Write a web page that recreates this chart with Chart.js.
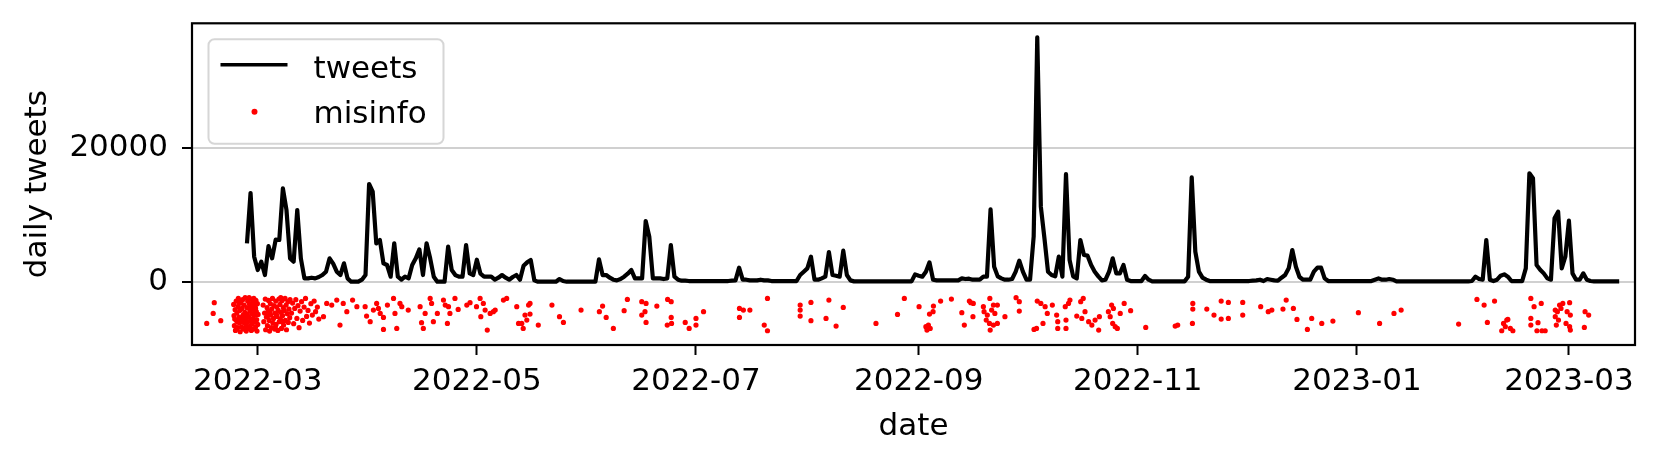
<!DOCTYPE html>
<html>
<head>
<meta charset="utf-8">
<script src="https://cdn.jsdelivr.net/npm/chart.js@4.4.1/dist/chart.umd.min.js"></script>
<style>
  html, body { margin: 0; padding: 0; background: #fff; }
  #wrap { width: 1661px; height: 467px; }
</style>
</head>
<body>
<div id="wrap"><canvas id="tweetChart"></canvas></div>
<script>
// x positions are counted in days from this date
const dayZero = '2022-03-01';
const tickLabels = ['2022-03', '2022-05', '2022-07', '2022-09', '2022-11', '2023-01', '2023-03'];
const yTicks = [0, 20000];

// daily tweet counts, one value per day from tweetsStart
const tweetsStart = '2022-02-26';
const tweets = [
  5750, 13300, 3750, 1750, 3000, 1000, 5350, 3500, 6300, 6250,
  14000, 10750, 3500, 3000, 10750, 3500, 500, 500, 600, 500,
  700, 1000, 1500, 3500, 2700, 1500, 1000, 2750, 500, 0,
  0, 0, 300, 1000, 14650, 13500, 5750, 6250, 2750, 2500,
  750, 5750, 750, 300, 750, 500, 2500, 3500, 4850, 1000,
  5750, 3500, 750, 0, 0, 0, 5250, 1750, 1000, 750,
  750, 5500, 1250, 1000, 3300, 1200, 750, 750, 750, 300,
  600, 1000, 600, 300, 700, 1000, 300, 2400, 2900, 3250,
  200, 0, 0, 0, 0, 0, 0, 400, 100, 0,
  0, 0, 0, 0, 0, 0, 0, 0, 3350, 1000,
  1000, 600, 300, 200, 400, 750, 1200, 1750, 500, 500,
  500, 9100, 6750, 500, 500, 500, 400, 500, 5500, 750,
  300, 150, 150, 100, 100, 100, 100, 100, 100, 100,
  100, 100, 100, 100, 100, 150, 200, 2100, 300, 300,
  200, 200, 200, 300, 200, 200, 100, 100, 100, 100,
  100, 100, 100, 100, 1000, 1500, 2000, 3750, 300, 300,
  500, 750, 4450, 1000, 900, 750, 4650, 1000, 200, 50,
  50, 50, 50, 50, 50, 50, 50, 50, 50, 50,
  50, 50, 50, 50, 50, 50, 1100, 900, 750, 1500,
  2900, 300, 200, 200, 200, 200, 200, 200, 200, 500,
  400, 450, 300, 300, 300, 750, 750, 10850, 2250, 800,
  500, 300, 300, 400, 1500, 3150, 1500, 300, 300, 6750,
  36650, 11250, 6500, 1500, 1000, 800, 3750, 750, 16150, 3250,
  800, 500, 6250, 4000, 3900, 2500, 1500, 800, 200, 300,
  1500, 3500, 1250, 1250, 2500, 300, 100, 100, 100, 100,
  850, 300, 50, 50, 50, 50, 50, 50, 50, 50,
  50, 50, 750, 15650, 4500, 1500, 600, 300, 100, 100,
  100, 100, 100, 100, 100, 100, 100, 100, 100, 100,
  150, 200, 300, 100, 400, 300, 200, 150, 600, 1000,
  2000, 4750, 2250, 700, 300, 300, 300, 1500, 2100, 2100,
  500, 100, 100, 100, 100, 100, 100, 100, 100, 100,
  100, 100, 100, 100, 300, 500, 300, 300, 400, 300,
  50, 50, 50, 50, 50, 50, 50, 50, 50, 50,
  50, 50, 50, 50, 50, 50, 50, 50, 50, 50,
  50, 100, 750, 400, 300, 6250, 300, 100, 300, 900,
  1100, 750, 100, 100, 100, 100, 2000, 16250, 15500, 2500,
  1800, 1250, 500, 300, 9500, 10500, 2000, 3750, 9150, 1250,
  300, 300, 1250, 300, 100, 50, 50, 50, 50, 50,
  50, 50, 50
];

// misinfo tweets: [day from dayZero, jittered y]
const misinfo = [
  [-14.2, -6250], [-12.4, -4750], [-12.1, -3150], [-10.3, -5850],
  [-6.7, -3400], [-6.6, -5100], [-6.5, -6600], [-6.3, -4200], [-6.2, -7300], [-6.0, -2900],
  [-5.9, -5800], [-5.8, -4700], [-5.6, -6900], [-5.5, -3700], [-5.4, -2500], [-5.2, -5300],
  [-5.1, -6200], [-5.0, -4300], [-4.9, -7500], [-4.7, -3200], [-4.6, -5700], [-4.5, -6800],
  [-4.4, -4000], [-4.2, -2700], [-4.1, -5000], [-4.0, -7100], [-3.9, -6100], [-3.8, -3500],
  [-3.6, -4600], [-3.5, -2400], [-3.4, -5500], [-3.3, -6500], [-3.2, -7400], [-3.0, -3900],
  [-2.9, -4900], [-2.8, -2900], [-2.7, -6000], [-2.6, -7000], [-2.5, -5300], [-2.3, -3300],
  [-2.2, -4400], [-2.1, -6700], [-2.0, -2600], [-1.9, -5800], [-1.8, -7300], [-1.7, -3800],
  [-1.6, -4800], [-1.5, -6300], [-1.4, -3100], [-1.3, -5500], [-1.2, -7100], [-1.1, -2500],
  [-1.0, -4200], [-0.9, -6000], [-0.8, -5000], [-0.7, -3600], [-0.6, -6800], [-0.5, -2800],
  [-0.4, -4500], [-0.3, -5700], [-0.2, -7400], [-0.1, -3300], [0.0, -6400], [0.1, -4900],
  [-5.3, -3000], [-4.8, -6000], [-3.7, -7000], [-2.4, -2400], [-0.6, -4000], [-1.9, -3900],
  [-3.1, -6200], [-4.3, -5500], [-5.7, -6000], [-6.4, -5600],
  [1.5, -3500], [1.7, -6000], [1.9, -4700], [2.1, -2600], [2.2, -7200], [2.4, -5300],
  [2.6, -3900], [2.7, -6600], [2.9, -4400], [3.0, -2800], [3.2, -5800], [3.3, -7400],
  [3.5, -3300], [3.6, -5000], [3.8, -6900], [3.9, -4100], [4.1, -2500], [4.2, -6200],
  [4.4, -5500], [4.5, -3600], [4.7, -7100], [4.8, -4700], [5.0, -2900], [5.1, -6400],
  [5.3, -3800], [5.4, -5200], [5.6, -7300], [5.7, -4300], [5.9, -2600], [6.0, -6000],
  [6.2, -3400], [6.3, -5600], [6.5, -4600], [6.6, -7000], [6.8, -2800], [6.9, -5100],
  [7.1, -3900], [7.2, -6500], [7.4, -4300], [7.6, -2500], [7.7, -5800], [7.9, -3500],
  [8.0, -7200], [8.2, -4800], [8.4, -3000], [8.5, -6100], [8.7, -4100], [8.9, -5400],
  [9.0, -2700], [3.4, -4600], [5.2, -4900], [6.4, -2400], [2.8, -5100], [4.9, -6800], [7.0, -6000],
  [9.4, -4700], [9.7, -3200], [10.0, -6300], [10.3, -4000], [10.6, -2700], [10.9, -5500],
  [11.2, -3600], [11.5, -6900], [11.8, -4400], [12.2, -3000], [12.5, -5800], [12.9, -3800],
  [13.3, -2500], [13.6, -5200], [14.0, -4300], [14.4, -6200], [14.8, -3300], [15.2, -5000],
  [15.7, -2900], [16.1, -4500], [16.6, -3800], [17.0, -5600],
  [18.3, -5250], [19.2, -3250], [20.6, -3500], [22.0, -2750], [22.9, -6500], [23.8, -3250],
  [24.8, -4500], [26.4, -2750], [27.6, -3750],
  [29.9, -3750], [30.3, -5150], [31.3, -6000], [32.2, -4250], [33.1, -3250], [33.6, -4000],
  [34.1, -4750], [35.0, -5350], [35.0, -7150], [36.1, -3500], [37.8, -2500], [38.2, -4750],
  [38.7, -7000], [39.6, -3250], [40.1, -3750], [41.9, -4250], [45.2, -3750], [45.6, -6150],
  [46.1, -7000], [46.6, -4750], [48.0, -2500], [48.4, -3250], [48.9, -6000], [50.0, -4750],
  [51.7, -2750], [52.2, -3500], [52.8, -6250], [53.1, -3750], [53.5, -4750], [54.9, -2500],
  [55.8, -4150], [58.2, -3500], [59.1, -3150], [60.9, -3750], [61.9, -2500], [62.1, -5250],
  [62.8, -3250], [63.3, -4250], [63.9, -7250], [64.7, -4750], [65.6, -4500], [66.1, -4250],
  [68.4, -2750], [69.3, -2500], [72.1, -3750], [72.6, -6250],
  [73.5, -6250], [73.9, -7000], [74.4, -5000], [74.9, -5750], [75.4, -3500], [75.8, -3250],
  [75.8, -4850], [78.1, -6500], [81.9, -3500], [84.0, -5250], [85.1, -6100], [90.0, -4250],
  [95.1, -4500], [96.0, -3650], [97.0, -5350], [99.0, -7000], [102.0, -4350], [102.9, -2650],
  [106.9, -3000], [108.1, -3250], [106.9, -5000], [107.8, -4500], [108.1, -6100], [111.1, -3650],
  [114.1, -2650], [115.1, -3000], [115.1, -5350], [114.0, -6500], [115.2, -6250], [119.0, -6100],
  [120.1, -7000], [122.0, -5500], [122.0, -6500], [124.1, -4500], [134.1, -4000], [134.1, -5350],
  [135.2, -4250], [137.0, -4250], [141.0, -6500], [141.9, -2500], [141.9, -7350],
  [151.0, -3500], [151.0, -4250], [151.0, -5150], [154.0, -3100], [154.0, -5850], [159.0, -2750],
  [158.2, -5500], [161.0, -6650], [163.0, -3850], [172.1, -6250], [178.1, -4900], [180.0, -2500],
  [184.1, -3750], [188.1, -3650], [187.0, -4850], [188.0, -4500], [186.0, -6750], [186.3, -7250],
  [186.7, -6500], [187.2, -7000], [190.1, -2900], [193.1, -2600], [196.0, -4650], [198.5, -3150],
  [198.1, -2900], [199.2, -3250], [196.7, -6500], [199.1, -5250], [202.0, -3750], [203.8, -2500],
  [204.8, -3500], [205.9, -3500], [202.2, -4500], [203.1, -5000], [204.3, -4250], [205.2, -4750],
  [202.8, -5750], [203.7, -6250], [204.8, -6500], [205.9, -6250], [203.9, -7250], [208.0, -5250],
  [211.1, -2400], [212.0, -3000], [212.0, -4400], [217.0, -2900], [218.0, -3250], [219.2, -3750],
  [219.8, -4750], [221.2, -3500], [218.6, -6250], [216.8, -7000], [216.1, -7150], [222.4, -5000],
  [222.7, -6000], [222.7, -7000],
  [224.8, -3750], [225.0, -5750], [225.0, -7000], [225.7, -3250], [226.1, -2750], [228.0, -5150],
  [229.4, -5500], [229.8, -2500], [229.1, -3000], [230.3, -4500], [231.3, -6000], [232.2, -6500],
  [233.1, -5750], [234.3, -5250], [234.1, -7250], [236.8, -4500], [237.3, -5250], [237.7, -3500],
  [238.2, -4000], [238.0, -6250], [238.7, -6750], [239.3, -7000], [240.1, -4750], [241.2, -3250],
  [243.0, -4350], [247.2, -6850], [255.4, -6650], [256.1, -6500], [260.3, -3250], [260.3, -4100],
  [260.2, -6250], [264.2, -4100], [266.2, -5000], [268.2, -2900], [270.2, -3100], [268.2, -5600],
  [270.2, -5500], [274.2, -3100], [274.2, -5000], [279.2, -3750], [281.3, -4500], [282.3, -4250],
  [285.4, -4100], [286.3, -2750], [288.3, -4000], [289.3, -5650], [292.2, -7150], [293.4, -5500],
  [296.2, -6250], [299.3, -5900],
  [306.4, -4650], [312.3, -6250], [316.3, -4750], [318.3, -4250], [334.3, -6350], [339.4, -2650],
  [341.4, -3500], [344.3, -2900], [342.3, -6100], [346.8, -6250], [347.7, -5750], [347.3, -6750],
  [346.3, -7350], [348.7, -7000], [349.4, -7350], [348.0, -5650], [354.4, -2500], [355.3, -3750],
  [357.3, -3250], [354.4, -5500], [354.4, -6500], [356.4, -6150], [356.1, -7350], [357.5, -7350],
  [358.4, -7350], [361.2, -5250], [361.8, -4500], [362.4, -3500], [362.8, -4000], [363.3, -3250],
  [365.2, -3150], [364.5, -4500], [365.4, -5000], [361.5, -6500], [364.2, -6250], [365.2, -6750],
  [365.4, -7250], [369.5, -4500], [370.5, -5000], [369.3, -6850], [361.2, -4250], [362.1, -5750]
];

function dayOf(s) {
  const p = s.split('-').map(Number);
  const z = dayZero.split('-').map(Number);
  return (Date.UTC(p[0], p[1] - 1, p[2] || 1) - Date.UTC(z[0], z[1] - 1, z[2])) / 864e5;
}

const startDay = dayOf(tweetsStart);
const tweetPoints = tweets.map((v, i) => ({ x: startDay + i, y: v }));
const misinfoPoints = misinfo.map(p => ({ x: p[0], y: p[1] }));
const tickDays = tickLabels.map(dayOf);

Chart.defaults.font.family = "'DejaVu Sans', sans-serif";
Chart.defaults.font.size = 31;
Chart.defaults.color = '#000';

// full black box around the plot, drawn over the data like matplotlib spines
const axesFrame = {
  id: 'axesFrame',
  afterDatasetsDraw(chart) {
    const { ctx, chartArea: a } = chart;
    ctx.save();
    ctx.strokeStyle = '#000';
    ctx.lineWidth = 2.2;
    ctx.strokeRect(a.left, a.top, a.right - a.left, a.bottom - a.top);
    ctx.restore();
  }
};

// framed legend in the upper left corner
const boxLegend = {
  id: 'boxLegend',
  afterDraw(chart) {
    const { ctx, chartArea: a } = chart;
    const sets = chart.data.datasets;
    const x = a.left + 16.5, y = a.top + 16, w = 235, h = 104.5, r = 6;
    ctx.save();
    ctx.beginPath();
    ctx.roundRect(x, y, w, h, r);
    ctx.fillStyle = 'rgba(255,255,255,0.8)';
    ctx.fill();
    ctx.strokeStyle = '#d6d6d6';
    ctx.lineWidth = 2;
    ctx.stroke();

    ctx.beginPath();
    ctx.moveTo(x + 12, y + 25.5);
    ctx.lineTo(x + 79, y + 25.5);
    ctx.strokeStyle = sets[0].borderColor;
    ctx.lineWidth = 3.6;
    ctx.stroke();

    ctx.beginPath();
    ctx.arc(x + 46, y + 72.5, 3, 0, Math.PI * 2);
    ctx.fillStyle = sets[1].backgroundColor;
    ctx.fill();

    ctx.fillStyle = '#000';
    ctx.font = "31px 'DejaVu Sans'";
    ctx.textBaseline = 'alphabetic';
    ctx.fillText(sets[0].label, x + 105, y + 38.5);
    ctx.fillText(sets[1].label, x + 105, y + 84);
    ctx.restore();
  }
};

new Chart(document.getElementById('tweetChart'), {
  type: 'scatter',
  data: {
    datasets: [
      {
        label: 'tweets',
        data: tweetPoints,
        showLine: true,
        borderColor: '#000',
        borderWidth: 4.2,
        borderJoinStyle: 'round',
        pointRadius: 0,
        pointHoverRadius: 0
      },
      {
        label: 'misinfo',
        data: misinfoPoints,
        backgroundColor: '#ff0000',
        borderWidth: 0,
        pointRadius: 2.6,
        pointHoverRadius: 2.6
      }
    ]
  },
  options: {
    responsive: true,
    maintainAspectRatio: false,
    animation: false,
    devicePixelRatio: 1,
    layout: { padding: { top: 23.3, right: 26, bottom: 0, left: 0 } },
    plugins: {
      legend: { display: false },
      tooltip: { enabled: false }
    },
    scales: {
      x: {
        type: 'linear',
        min: -18.3,
        max: 383.4,
        border: { display: false },
        grid: {
          drawOnChartArea: false,
          drawTicks: true,
          tickLength: 10,
          tickColor: '#000',
          tickWidth: 2
        },
        ticks: {
          autoSkip: false,
          maxRotation: 0,
          padding: 8,
          callback: (v, i) => tickLabels[i]
        },
        afterBuildTicks: s => { s.ticks = tickDays.map(v => ({ value: v })); },
        afterFit: s => { s.height = 122; s.paddingLeft = 0; s.paddingRight = 0; },
        title: { display: true, text: 'date', padding: { top: 0, bottom: 21 } }
      },
      y: {
        type: 'linear',
        min: -9490,
        max: 38740,
        border: { display: false },
        grid: {
          color: '#d0d0d0',
          lineWidth: 2,
          drawTicks: true,
          tickLength: 10,
          tickColor: '#000',
          tickWidth: 2
        },
        ticks: {
          padding: 14,
          callback: v => String(v)
        },
        afterBuildTicks: s => { s.ticks = yTicks.map(v => ({ value: v })); },
        afterFit: s => { s.width = 192; s.paddingTop = 0; s.paddingBottom = 0; },
        title: { display: true, text: 'daily tweets', padding: { top: 19, bottom: 0 } }
      }
    }
  },
  plugins: [axesFrame, boxLegend]
});
</script>
</body>
</html>
